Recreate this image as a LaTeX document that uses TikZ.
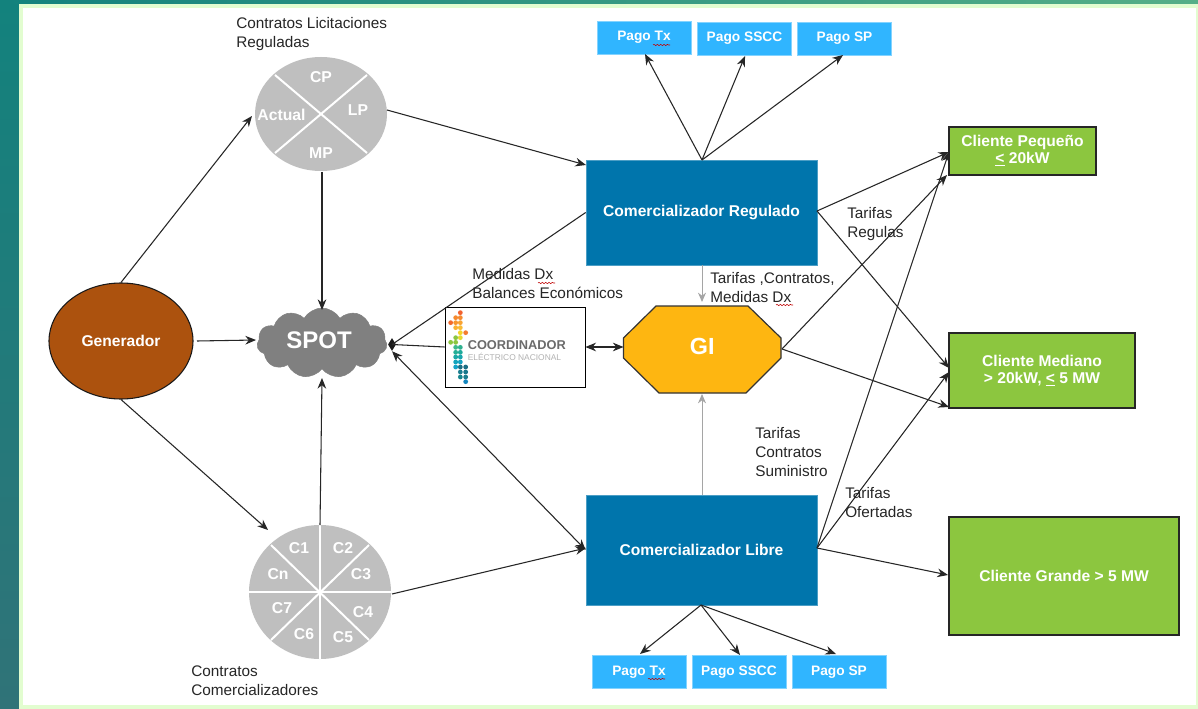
\documentclass[tikz,border=0pt]{standalone}
\usepackage{fontspec}
\setmainfont{Liberation Sans}
\usetikzlibrary{arrows.meta,shapes.geometric,shapes.symbols,decorations.pathmorphing}
\definecolor{tealbg}{RGB}{19,130,125}
\definecolor{tealbot}{RGB}{48,115,120}
\definecolor{topright}{RGB}{85,175,135}
\definecolor{panelline}{RGB}{226,253,208}
\definecolor{pie}{RGB}{191,191,191}
\definecolor{comblue}{RGB}{0,117,172}
\definecolor{paybl}{RGB}{48,181,255}
\definecolor{cligreen}{RGB}{140,198,63}
\definecolor{gibrown}{RGB}{172,82,14}
\definecolor{gold}{RGB}{254,182,17}
\definecolor{cloudg}{RGB}{128,128,128}
\definecolor{grayarrow}{RGB}{165,165,165}
\tikzset{
 x=0.75pt,y=-0.75pt,
 lab/.style={font=\fontsize{11.5pt}{14.25pt}\selectfont,align=left,anchor=north west,inner sep=0pt,text=black!85},
 wlab/.style={font=\fontsize{11.7pt}{12.75pt}\selectfont\bfseries,text=white,align=center,inner sep=0pt},
 plab/.style={font=\fontsize{10.3pt}{12pt}\selectfont\bfseries,text=white,inner sep=0pt},
 pielab/.style={font=\fontsize{11.8pt}{12pt}\selectfont\bfseries,text=white,inner sep=0pt},
 comb/.style={rectangle,fill=comblue,draw=comblue!70!white,line width=0.5pt,minimum width=231*0.75pt,wlab,inner sep=0pt},
 payb/.style={rectangle,fill=paybl,draw=paybl!60!white,line width=0.5pt,minimum width=94*0.75pt,minimum height=33*0.75pt,plab},
 cli/.style={rectangle,fill=cligreen,draw=black!85,line width=1pt,wlab},
 arr/.style={-{Stealth[length=8pt,width=6.5pt]},line width=0.8pt,draw=black!85},
 dbl/.style={{Stealth[length=8pt,width=6.5pt]}-{Stealth[length=8pt,width=6.5pt]},line width=0.8pt,draw=black!85},
 plainl/.style={line width=0.8pt,draw=black!85},
 garr/.style={-{Stealth[length=7pt,width=6pt]},line width=0.7pt,draw=grayarrow},
 sep/.style={draw=white,line width=1.5pt},
 squig/.style={draw=red!75!black,line width=0.4pt,decorate,decoration={snake,amplitude=0.5pt,segment length=2.5pt}},
 dot/.style={circle,inner sep=0pt,minimum size=3.6pt}
}
\begin{document}
\begin{tikzpicture}
\useasboundingbox (0,0) rectangle (1198,709);
% backdrop
\shade[top color=tealbg,bottom color=tealbot] (0,0) rectangle (19,709);
\shade[left color=tealbg,right color=topright] (0,0) rectangle (1198,4);
\fill[panelline] (19,4) rectangle (1198,709);
\fill[white] (23,8) rectangle (1196,705);
% pies
\node[ellipse,fill=pie,inner sep=0pt,minimum width=132*0.75pt,minimum height=114*0.75pt] (pone) at (321,114) {};
\draw[sep] (275,75) -- (367,153);
\draw[sep] (367,75) -- (275,153);
\node[pielab] (cp) at (321,77) {CP};
\node[pielab] (lp) at (358,110) {LP};
\node[pielab] (act) at (281.5,115) {Actual};
\node[pielab] (mp) at (321,153) {MP};
\node[ellipse,fill=pie,inner sep=0pt,minimum width=142*0.75pt,minimum height=134*0.75pt] (ptwo) at (320,592) {};
\draw[sep] (271,545) -- (369,640);
\draw[sep] (369,545) -- (271,640);
\draw[sep] (320,525) -- (320,659);
\draw[sep] (249,592) -- (391,592);
\node[pielab] (c1) at (299,548) {C1};
\node[pielab] (c2) at (343,548) {C2};
\node[pielab] (c3) at (361,574) {C3};
\node[pielab] (c4) at (363,612) {C4};
\node[pielab] (c5) at (343,637) {C5};
\node[pielab] (c6) at (304,634) {C6};
\node[pielab] (c7) at (282,608) {C7};
\node[pielab] (cn) at (278,574) {Cn};
% main nodes
\node[ellipse,fill=gibrown,draw=black!90,line width=0.8pt,inner sep=0pt,minimum width=144*0.75pt,minimum height=116*0.75pt,wlab] (gen) at (121,341) {Generador};
\node[cloud,cloud puffs=11,cloud puff arc=120,aspect=2,fill=cloudg,draw=cloudg,inner sep=0pt,minimum width=130*0.75pt,minimum height=70*0.75pt] (spot) at (322,343) {};
\node[font=\fontsize{18pt}{20pt}\selectfont\bfseries,text=white,inner sep=0pt] (spott) at (319,340) {SPOT};
\node[comb,minimum height=105*0.75pt] (cr) at (701.5,212.5) {Comercializador Regulado};
\node[comb,minimum height=110*0.75pt] (cl) at (701.5,550) {Comercializador Libre};
\draw[fill=gold,draw=black!80,line width=0.9pt] (623.5,338) -- (656,306) -- (748,306) -- (781,338) -- (781,358) -- (746,393) -- (659,393) -- (623.5,358) -- cycle;
\node[rectangle,inner sep=0pt,minimum width=158*0.75pt,minimum height=87*0.75pt,font=\fontsize{17.5pt}{18pt}\selectfont\bfseries,text=white] (gi) at (702.25,346) {GI};
\node[rectangle,draw=black,fill=white,line width=0.6pt,minimum width=140*0.75pt,minimum height=80*0.75pt,inner sep=0pt] (coord) at (515,347) {};
\node[diamond,fill=black!90,inner sep=0pt,minimum width=8*0.75pt,minimum height=13*0.75pt,aspect=0.6] (hub) at (392,344.5) {};
% logo
\foreach \cx/\cy/\col in {
661/68/F2622E,647/83/F58A2E,661/83/F58A2E,632/98/F26A2C,647/98/F7962E,661/98/F9A332,647/113/F9B233,661/113/FABB35,661/128/F5D327,677/128/F47B30,
647/143/8DC63F,661/143/E6D92E,632/157/8DC63F,647/157/8DC63F,647/172/3DB98A,661/172/2FB18E,647/187/24AE96,661/187/1FAA9B,647/201/1AA8A6,661/201/18A5AD,
647/216/14A4BC,661/216/14A0C0,647/231/16A3C8,661/231/1B6E85,677/231/1B6E85,661/246/1B7E90,677/246/18788C,661/261/16868F,677/261/1C7E8E,677/275/1285BE}{
 \definecolor{dc}{HTML}{\col}
 \node[dot,fill=dc] at ({240+\cx/3},{290+\cy/3}) {};
}
\node[font=\fontsize{9.6pt}{10pt}\selectfont\bfseries,text=black!58,inner sep=0pt,anchor=west] (lgone) at (467.5,345) {COORDINADOR};
\node[font=\fontsize{6.3pt}{8pt}\selectfont,text=black!30,inner sep=0pt,anchor=west] (lgtwo) at (467.5,356.5) {ELÉCTRICO NACIONAL};
% clients
\node[cli,minimum width=147*0.75pt,minimum height=48*0.75pt] (cs) at (1022.5,151) {Cliente Pequeño\\\underline{<} 20kW};
\node[cli,minimum width=186*0.75pt,minimum height=75*0.75pt] (cm) at (1042,370.5) {Cliente Mediano\\> 20kW, \underline{<} 5 MW};
\node[cli,minimum width=230*0.75pt,minimum height=118*0.75pt] (cg) at (1064,576) {Cliente Grande > 5 MW};
% payment boxes
\node[payb] (ta) at (644,37.5) {Pago Tx};
\node[payb] (tb) at (744.5,38.5) {Pago SSCC};
\node[payb] (tc) at (844.5,38.5) {Pago SP};
\node[payb] (ba) at (639,672) {Pago Tx};
\node[payb] (bb) at (739,672) {Pago SSCC};
\node[payb] (bc) at (839,672) {Pago SP};
% labels
\node[lab] (l1) at (236,17) {Contratos Licitaciones\\Reguladas};
\node[lab] (l2) at (191,666) {Contratos\\Comercializadores};
\node[lab] (l3) at (472,268) {Medidas Dx\\Balances Económicos};
\node[lab] (l4) at (710,272) {Tarifas ,Contratos,\\Medidas Dx};
\node[lab] (l5) at (847,207) {Tarifas\\Regulas};
\node[lab] (l6) at (755,427) {Tarifas\\Contratos\\Suministro};
\node[lab] (l7) at (845,487) {Tarifas\\Ofertadas};
% spell-check underlines
\coordinate (sa) at (653,45); \coordinate (sb) at (670,45);
\coordinate (sc) at (648,679); \coordinate (sd) at (665,679);
\coordinate (se) at (538,283); \coordinate (sf) at (555,283);
\coordinate (sg) at (776,305); \coordinate (sh) at (793,305);
\draw[squig] (sa) -- (sb); \draw[squig] (sc) -- (sd); \draw[squig] (se) -- (sf); \draw[squig] (sg) -- (sh);
% connector ports
\coordinate (ptop) at (702,160);
\coordinate (pbot) at (701,605);
\coordinate (cre) at (817,211);
\coordinate (cle) at (817,548);
\coordinate (gie) at (782,349);
\coordinate (crw) at (586,165);
\coordinate (clw) at (586,548);
\coordinate (piea) at (252,116);
\coordinate (pieb) at (268,530);
\coordinate (csa) at (949,152);
\coordinate (csb) at (947,175);
\coordinate (cma) at (949,368);
\coordinate (cmb) at (949,407);
\coordinate (cmc) at (949,372);
\coordinate (cga) at (948,575);
\coordinate (sptop) at (322,310);
\coordinate (spbot) at (322,378);
\coordinate (spw) at (256,340);
\coordinate (gw) at (197,341);
\coordinate (pol) at (322,172);
\coordinate (ptu) at (320,525);
\coordinate (poe) at (387,110);
\coordinate (pte) at (392,594);
\coordinate (gin) at (702,302);
\coordinate (gis) at (702,394);
\coordinate (giw) at (623.5,347);
% connectors
\draw[arr] (gen.north) -- (piea);
\draw[arr] (gen.south) -- (pieb);
\draw[arr] (gw) -- (spw);
\draw[arr] (pol) -- (sptop);
\draw[arr] (ptu) -- (spbot);
\draw[arr] (poe) -- (crw);
\draw[arr] (pte) -- (clw);
\draw[plainl] (cr.west) -- (hub.center);
\draw[plainl] (coord.west) -- (hub.center);
\draw[dbl] (cl.west) -- (hub.south);
\draw[dbl] (coord.east) -- (giw);
\draw[garr] (cr.south) ++(0.5,0) -- (gin);
\draw[garr] (cl.north) ++(0.5,0) -- (gis);
\draw[arr] (ptop) -- (645,54);
\draw[arr] (ptop) -- (745,56);
\draw[arr] (ptop) -- (843,55);
\draw[arr] (pbot) -- (640,654);
\draw[arr] (pbot) -- (740,655);
\draw[arr] (pbot) -- (836,654);
\draw[arr] (cre) -- (csa);
\draw[arr] (cre) -- (cma);
\draw[arr] (cle) -- (csa);
\draw[arr] (cle) -- (cmc);
\draw[arr] (cle) -- (cga);
\draw[arr] (gie) -- (csb);
\draw[arr] (gie) -- (cmb);
\end{tikzpicture}
\end{document}
